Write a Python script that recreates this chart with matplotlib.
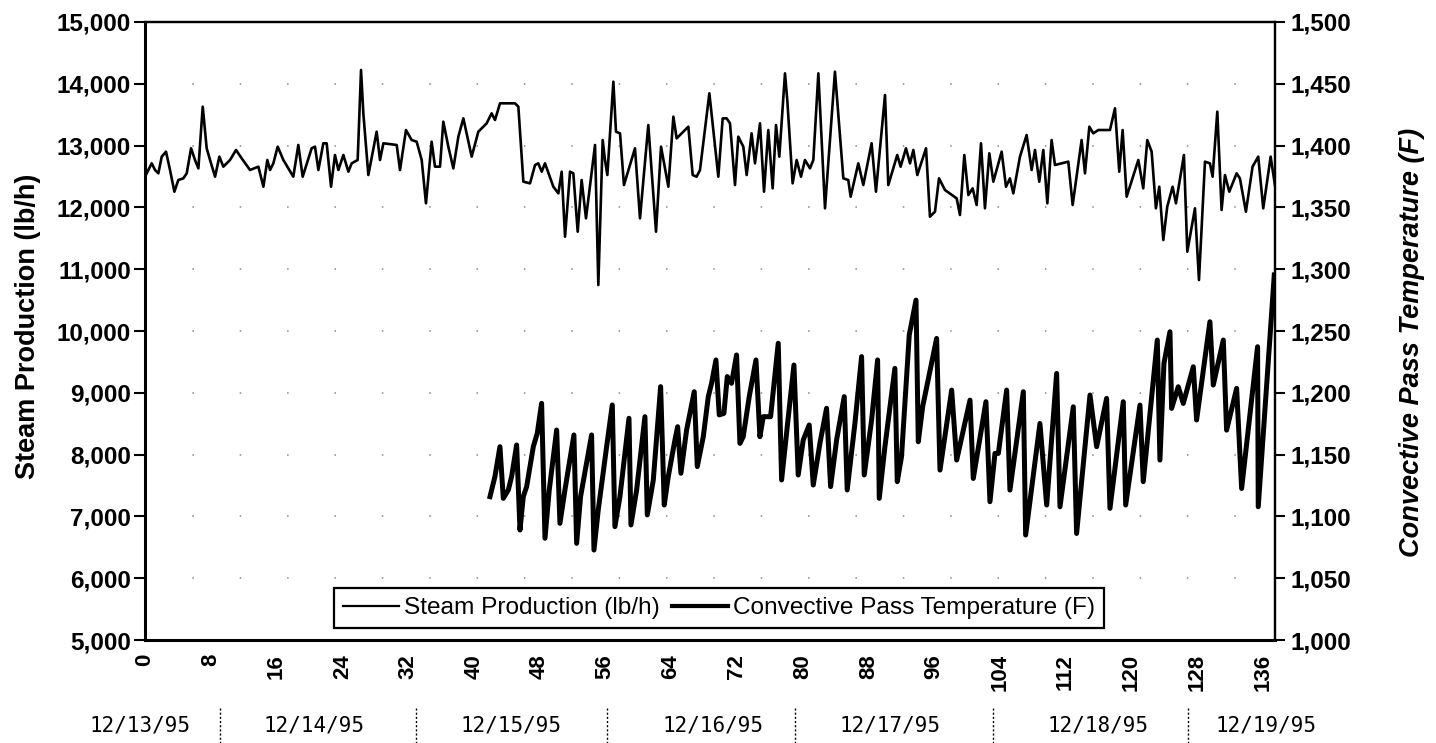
import matplotlib
matplotlib.use('Agg')
import matplotlib.pyplot as plt
from matplotlib.lines import Line2D
from matplotlib.ticker import FuncFormatter
import matplotlib.transforms as mtransforms

# ---- data ----
steam_hours = [0.0, 0.81, 1.22, 1.62, 2.03, 2.55, 3.04, 3.57, 4.05, 4.66, 5.07, 5.60, 6.08, 6.49,
               7.02, 7.50, 7.91, 8.52, 9.04, 9.53, 10.34, 11.07, 11.76, 12.77, 13.79, 14.40, 14.88,
               15.21, 15.61, 16.14, 16.83, 18.04, 18.65, 19.18, 20.27, 20.68, 21.09, 21.69, 22.10,
               22.63, 23.11, 23.52, 24.13, 24.74, 25.14, 25.87, 26.28, 26.56, 27.17, 28.18, 28.59,
               29.00, 30.62, 31.02, 31.75, 32.44, 33.05, 33.66, 34.18, 34.87, 35.28, 35.89, 36.29,
               36.90, 37.51, 38.12, 38.73, 39.74, 40.55, 40.95, 41.56, 42.17, 42.58, 43.19, 44.00,
               45.01, 45.42, 46.03, 46.84, 47.45, 47.85, 48.26, 48.66, 49.68, 50.29, 50.69, 51.10,
               51.71, 52.11, 52.64, 53.12, 53.65, 54.75, 55.15, 55.68, 55.96, 56.25, 56.57, 56.98,
               57.30, 57.79, 58.27, 59.61, 60.22, 61.23, 62.17, 62.78, 63.67, 64.28, 64.68, 66.10,
               66.63, 67.11, 67.52, 68.66, 69.75, 70.28, 70.76, 71.17, 71.78, 72.18, 72.79, 73.20,
               73.80, 74.21, 74.82, 75.31, 75.83, 76.36, 76.77, 77.17, 77.86, 78.14, 78.79, 79.28,
               79.81, 80.29, 80.90, 81.31, 81.92, 82.73, 83.94, 84.96, 85.56, 85.85, 86.78, 87.39,
               88.40, 88.93, 90.03, 90.43, 91.52, 91.93, 92.58, 93.07, 93.48, 93.96, 95.02, 95.50,
               96.11, 96.60, 97.33, 98.75, 99.15, 99.68, 100.17, 100.69, 101.18, 101.71, 102.19,
               102.72, 103.21, 104.22, 104.75, 105.23, 105.64, 106.45, 107.26, 107.87, 108.28,
               108.80, 109.29, 109.78, 110.30, 110.71, 112.33, 112.86, 113.95, 114.36, 114.89,
               115.37, 115.98, 117.40, 118.01, 118.53, 118.94, 119.43, 120.85, 121.45, 121.94,
               122.47, 122.99, 123.40, 123.89, 124.37, 125.02, 125.43, 126.40, 126.81, 127.74,
               128.23, 128.96, 129.56, 129.89, 130.46, 130.98, 131.39, 131.92, 132.81, 133.21,
               133.94, 134.75, 135.44, 136.05, 136.95, 137.47]
steam_lbh = [12497, 12713, 12605, 12551, 12821, 12902, 12605, 12254, 12443, 12470, 12551, 12956,
             12767, 12632, 13630, 12956, 12767, 12497, 12821, 12659, 12767, 12929, 12794, 12605,
             12659, 12335, 12767, 12605, 12713, 12983, 12767, 12497, 13010, 12497, 12956, 12983,
             12605, 13037, 13037, 12335, 12848, 12605, 12848, 12578, 12713, 12767, 14223, 13522,
             12524, 13225, 12767, 13037, 13010, 12605, 13252, 13090, 13063, 12767, 12066, 13063,
             12659, 12659, 13387, 12983, 12632, 13144, 13441, 12821, 13225, 13279, 13360, 13522,
             13414, 13684, 13684, 13684, 13630, 12416, 12389, 12686, 12713, 12578, 12713, 12335,
             12227, 12578, 11526, 12578, 12551, 11607, 12443, 11823, 13010, 10744, 13090, 12767,
             12524, 13198, 14034, 13225, 13198, 12362, 12956, 11823, 13333, 11607, 12983, 12335,
             13468, 13117, 13306, 12524, 12497, 12605, 13846, 12497, 13441, 13441, 13360, 12362,
             13144, 12983, 12524, 13198, 12713, 13360, 12254, 13252, 12308, 13333, 12821, 14169,
             13738, 12389, 12767, 12497, 12767, 12632, 12767, 14169, 11985, 14196, 12470, 12443,
             12173, 12713, 12362, 13037, 12254, 13819, 12362, 12848, 12659, 12956, 12713, 12929,
             12524, 12956, 11850, 11931, 12470, 12281, 12146, 11877, 12848, 12200, 12308, 12039,
             13037, 11985, 12875, 12416, 12902, 12335, 12470, 12227, 12821, 13171, 12605, 12929,
             12416, 12929, 12066, 13090, 12686, 12740, 12039, 13090, 12551, 13306, 13198, 13252,
             13252, 13603, 12578, 13252, 12173, 12767, 12308, 13090, 12902, 11985, 12335, 11472,
             12012, 12335, 12066, 12848, 11283, 11985, 10825, 12740, 12713, 12497, 13549, 11958,
             12524, 12254, 12551, 12470, 11931, 12659, 12821, 11985, 12821, 12362]

temp_hours = [41.97, 42.57, 43.18, 43.59, 44.20, 44.60, 45.21, 45.62, 46.02, 46.43, 47.24, 47.72,
              48.25, 48.66, 49.18, 50.08, 50.48, 51.09, 52.18, 52.51, 52.99, 54.33, 54.62, 55.14,
              56.16, 56.85, 57.17, 57.78, 58.88, 59.12, 59.81, 60.82, 61.11, 61.84, 62.73, 63.17,
              63.66, 64.47, 64.80, 65.20, 65.89, 66.82, 67.19, 67.92, 68.53, 68.93, 69.46, 69.86,
              70.43, 70.84, 71.36, 71.97, 72.38, 72.78, 73.51, 74.33, 74.81, 75.22, 76.11, 77.04,
              77.45, 78.18, 78.95, 79.47, 80.08, 80.81, 81.30, 82.11, 82.92, 83.41, 84.14, 85.07,
              85.43, 86.37, 87.18, 87.50, 88.40, 89.13, 89.33, 90.02, 91.23, 91.52, 92.04, 92.98,
              93.80, 94.08, 94.61, 96.31, 96.72, 98.14, 98.75, 100.37, 100.77, 102.31, 102.80,
              103.41, 103.82, 104.83, 105.23, 106.86, 107.14, 108.88, 109.70, 110.91, 111.32,
              112.94, 113.34, 114.97, 115.78, 116.99, 117.40, 119.02, 119.31, 121.05, 121.45,
              123.16, 123.48, 123.97, 124.70, 124.90, 125.71, 126.32, 127.54, 127.94, 129.56,
              129.97, 131.19, 131.59, 132.81, 133.42, 135.36, 135.44, 137.39]
temp_F = [1116.0, 1132.2, 1156.4, 1114.6, 1121.4, 1132.2, 1157.8, 1089.0, 1116.0, 1124.1, 1156.4,
          1167.2, 1191.5, 1082.3, 1121.4, 1169.9, 1094.4, 1121.4, 1165.9, 1078.2, 1116.0, 1165.9,
          1072.8, 1105.2, 1156.4, 1190.2, 1091.7, 1116.0, 1179.4, 1093.1, 1121.4, 1180.7, 1101.2,
          1129.5, 1205.0, 1109.2, 1132.2, 1161.8, 1172.6, 1134.9, 1169.9, 1200.9, 1140.3, 1164.5,
          1196.9, 1207.7, 1226.6, 1182.1, 1183.4, 1213.1, 1207.7, 1230.6, 1159.1, 1164.5, 1196.9,
          1226.6, 1164.5, 1180.7, 1180.7, 1240.1, 1129.5, 1175.3, 1222.5, 1133.5, 1161.8, 1174.0,
          1125.4, 1159.1, 1187.5, 1124.1, 1161.8, 1196.9, 1121.4, 1175.3, 1229.3, 1133.5, 1178.0,
          1226.6, 1114.6, 1156.4, 1219.8, 1128.1, 1148.4, 1246.8, 1275.0, 1160.4, 1188.7, 1244.0,
          1137.5, 1202.2, 1145.6, 1194.1, 1130.7, 1192.8, 1111.9, 1151.0, 1151.0, 1202.2, 1121.3,
          1200.9, 1084.9, 1175.2, 1109.2, 1215.7, 1107.8, 1188.7, 1086.2, 1198.2, 1156.4, 1195.5,
          1106.5, 1192.8, 1109.2, 1190.1, 1128.1, 1242.7, 1145.6, 1223.8, 1249.4, 1187.4, 1204.9,
          1191.4, 1221.1, 1178.0, 1257.5, 1206.3, 1242.7, 1169.8, 1203.6, 1122.6, 1237.3, 1107.8,
          1295.3]

x_ticks = list(range(0, 137, 8))
left_ticks = [5000, 6000, 7000, 8000, 9000, 10000, 11000, 12000, 13000, 14000, 15000]
right_ticks = [1000, 1050, 1100, 1150, 1200, 1250, 1300, 1350, 1400, 1450, 1500]
date_labels = ['12/13/95', '12/14/95', '12/15/95', '12/16/95', '12/17/95', '12/18/95', '12/19/95']
date_centers = [-0.6, 20.6, 44.5, 69.1, 90.6, 116.0, 136.4]
day_separators = [9.1, 33.0, 56.2, 79.1, 103.2, 126.9]

steam_name = 'Steam Production (lb/h)'
temp_name = 'Convective Pass Temperature (F)'

plt.rcParams['font.family'] = ['Liberation Sans', 'DejaVu Sans']

fig = plt.figure(figsize=(14.36, 7.43), dpi=100)
ax = fig.add_axes([0.101, 0.1386, 0.787, 0.8318])
ax2 = ax.twinx()

ax.plot(steam_hours, steam_lbh, color='black', lw=1.9, solid_joinstyle='round')
ax2.plot(temp_hours, temp_F, color='black', lw=3.6, solid_joinstyle='round')

ax.set_xlim(0, 137.5)
ax.set_ylim(5000, 15000)
ax2.set_ylim(1000, 1500)

ax.set_xticks(x_ticks)
ax.set_xticklabels([str(t) for t in x_ticks], rotation=90, fontsize=16, fontweight='bold')
ax.tick_params(axis='x', length=0, pad=10)

fmt = FuncFormatter(lambda v, p: f'{v:,.0f}')
ax.set_yticks(left_ticks)
ax.yaxis.set_major_formatter(fmt)
ax.tick_params(axis='y', direction='out', length=8, width=1.5, labelsize=17.5, pad=2)
for lab in ax.get_yticklabels():
    lab.set_fontweight('bold')
ax2.set_yticks(right_ticks)
ax2.yaxis.set_major_formatter(fmt)
ax2.tick_params(axis='y', direction='out', length=7, width=1.5, labelsize=17.5, pad=4)
for lab in ax2.get_yticklabels():
    lab.set_fontweight('bold')

# faint, sparse dotted gridlines (as in the scanned original)
for v in left_ticks[1:-1]:
    ax.axhline(v, color='#888888', lw=1.1, linestyle=(0, (1, 30)), zorder=0)

for side in ['left', 'bottom']:
    ax.spines[side].set_linewidth(2.2)
ax.spines['top'].set_linewidth(1.6)
ax.spines['right'].set_linewidth(1.6)
ax2.spines['right'].set_linewidth(1.6)
ax2.spines['left'].set_visible(False)
ax2.spines['top'].set_linewidth(1.6)
ax2.spines['bottom'].set_visible(False)

ax.set_ylabel(steam_name, fontsize=19.5, fontweight='bold')
ax.yaxis.set_label_coords(-0.092, 0.508)
ax2.set_ylabel(temp_name, fontsize=19.5, fontweight='bold', fontstyle='italic')
ax2.yaxis.set_label_coords(1.110, 0.482)

# date row under the axis
trans = mtransforms.blended_transform_factory(ax.transData, ax.transAxes)
for lab, c in zip(date_labels, date_centers):
    ax.text(c, -0.139, lab, transform=trans, ha='center', va='center',
            fontsize=15, family=['DejaVu Sans Mono', 'Liberation Mono'], clip_on=False)
for s in day_separators:
    ax.plot([s, s], [-0.11, -0.17], transform=trans, color='black', lw=1.0,
            linestyle=(0, (1.5, 1.5)), clip_on=False)

handles = [Line2D([], [], color='black', lw=1.6), Line2D([], [], color='black', lw=3.0)]
leg = ax2.legend(handles, [steam_name, temp_name], loc='lower center',
                 bbox_to_anchor=(0.508, 0.02), ncol=2, fontsize=17.6, frameon=True,
                 fancybox=False, edgecolor='black', framealpha=1, handlelength=2.3,
                 handletextpad=0.2, columnspacing=0.5, borderpad=0.35, borderaxespad=0)
leg.get_frame().set_linewidth(1.6)

fig.savefig('out.png', dpi=100, facecolor='white')
